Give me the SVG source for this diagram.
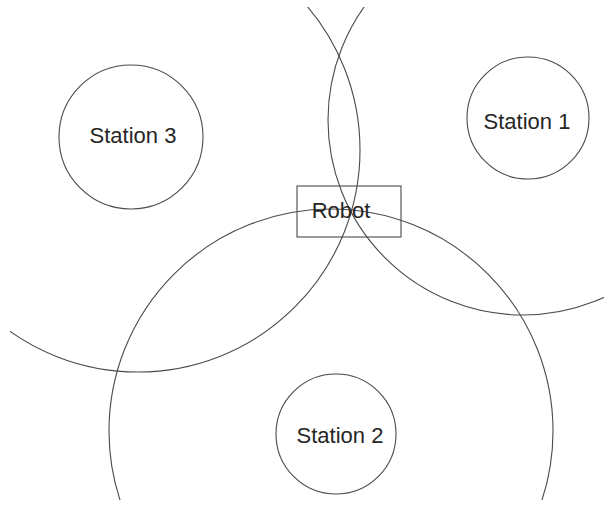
<svg xmlns="http://www.w3.org/2000/svg" width="604" height="506" viewBox="0 0 604 506">
  <style>
    .ln { fill: none; stroke: #4a4a4a; stroke-width: 1.1; }
    .lbl { font-family: "Liberation Sans", Arial, sans-serif; font-size: 22px; fill: #262626; text-anchor: middle; }
  </style>
  <defs>
    <clipPath id="frame">
      <rect x="10" y="7" width="594" height="493"/>
    </clipPath>
  </defs>
  <rect x="0" y="0" width="604" height="506" fill="#ffffff"/>
  <g id="range-circles" clip-path="url(#frame)">
    <circle class="ln" cx="138" cy="150" r="222"/>
    <circle class="ln" cx="523" cy="120" r="195"/>
    <circle class="ln" cx="331" cy="431" r="222"/>
  </g>
  <g id="station3">
    <circle class="ln" cx="131" cy="137" r="72"/>
    <text class="lbl" x="133" y="143">Station 3</text>
  </g>
  <g id="station1">
    <circle class="ln" cx="528" cy="118" r="61"/>
    <text class="lbl" x="527" y="129">Station 1</text>
  </g>
  <g id="station2">
    <circle class="ln" cx="336" cy="434" r="60"/>
    <text class="lbl" x="340" y="443">Station 2</text>
  </g>
  <g id="robot">
    <rect class="ln" x="297" y="186" width="104" height="51"/>
    <text class="lbl" x="341" y="218">Robot</text>
  </g>
</svg>
